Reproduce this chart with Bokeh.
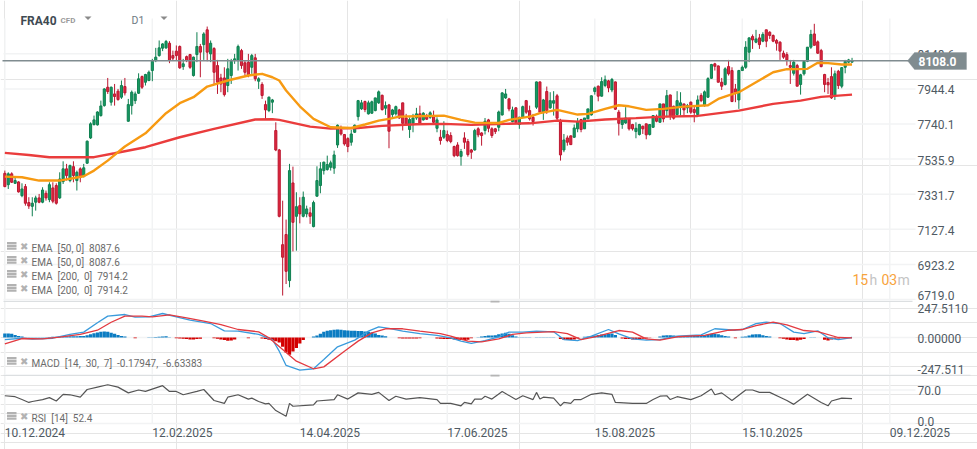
from bokeh.plotting import figure
from bokeh.layouts import column
from bokeh.models import (ColumnDataSource, Range1d, Label, Span, BoxAnnotation, PolyAnnotation)
from bokeh.embed import file_html
from bokeh.resources import INLINE

# ------------------------------------------------ data
candles = """
R 7469 7453 7376 7372|G 7459 7450 7387 7362|R 7459 7450 7401 7397|G 7430 7411 7395 7391|R 7407 7403 7345 7341
G 7395 7362 7323 7314|R 7391 7376 7279 7265|R 7314 7283 7263 7246|G 7314 7279 7261 7203|G 7323 7310 7285 7236
R 7333 7310 7285 7279|G 7372 7356 7285 7279|R 7353 7337 7310 7294|G 7401 7387 7300 7285|R 7401 7368 7291 7279
R 7395 7382 7279 7271|G 7459 7420 7310 7304|G 7523 7479 7405 7391|R 7508 7479 7440 7411|G 7504 7498 7411 7401
R 7523 7492 7440 7401|G 7469 7459 7411 7353|R 7488 7479 7430 7401|G 7508 7485 7434 7430|G 7644 7640 7512 7508
G 7750 7741 7659 7653|G 7789 7764 7737 7731|G 7814 7810 7735 7731|G 7876 7845 7789 7783|G 7948 7944 7847 7841
R 8008 7954 7929 7915|G 7958 7954 7867 7847|R 7973 7915 7900 7847|R 7944 7931 7882 7876|G 7993 7964 7896 7886
R 8008 7958 7921 7906|G 7886 7853 7756 7754|G 7935 7925 7847 7795|G 7929 7915 7876 7857|G 8035 8003 7919 7915
R 8022 8016 7954 7944|G 8032 8028 7983 7964|G 8051 8041 7993 7989|G 8119 8105 8051 7989|G 8183 8129 8109 8100
G 8226 8183 8138 8132|G 8210 8206 8181 8164|G 8229 8220 8183 8177|R 8222 8210 8109 8094|R 8167 8138 8123 8109
R 8197 8164 8138 8109|R 8197 8191 8067 8061|G 8119 8090 8074 8055|R 8138 8132 8109 8100|R 8148 8144 8070 8061
G 8132 8129 8022 8016|G 8274 8191 8144 8100|R 8206 8191 8158 8012|G 8274 8264 8202 8113|R 8307 8288 8158 8105
G 8226 8210 8148 8100|R 8187 8179 8041 7973|R 8113 8080 7983 7915|R 8032 8008 7973 7925|R 8070 8008 7911 7900
G 8119 8061 7964 7925|G 8119 8105 8022 7973|G 8148 8119 8109 8090|G 8202 8191 8109 8051|R 8177 8167 8080 8061
R 8109 8096 8041 8022|R 8148 8100 8022 8012|G 8148 8138 8070 8032|R 8148 8125 8003 7989|G 8012 8003 7989 7944
R 7983 7970 7906 7886|R 7876 7853 7822 7770|G 7900 7896 7818 7809|G 7886 7880 7867 7803|R 7750 7702 7589 7582
R 7595 7589 7203 7197|R 7294 7038 6965 6742|R 7184 7097 6883 6809|G 7508 7469 6829 6790|R 7492 7397 7168 6999
G 7343 7259 7203 7003|R 7314 7265 7217 7162|G 7347 7314 7203 7197|G 7265 7246 7217 7197|R 7256 7223 7203 7159
G 7294 7283 7143 7139|G 7494 7411 7320 7318|G 7518 7479 7382 7337|G 7521 7518 7469 7446|G 7556 7504 7475 7469
G 7527 7514 7488 7469|G 7585 7560 7483 7450|G 7737 7733 7618 7601|R 7731 7706 7682 7673|R 7682 7679 7624 7614
R 7663 7655 7609 7576|G 7706 7682 7634 7614|G 7737 7733 7692 7688|G 7880 7876 7783 7760|G 7880 7863 7828 7822
R 7876 7871 7824 7809|G 7876 7863 7799 7795|G 7876 7869 7803 7799|G 7892 7892 7818 7814|G 7935 7927 7863 7857
R 7911 7907 7824 7818|G 7871 7847 7832 7793|R 7857 7851 7698 7599|G 7828 7822 7795 7779|G 7847 7841 7799 7789
R 7828 7822 7775 7770|R 7863 7863 7744 7702|R 7799 7775 7737 7731|G 7779 7766 7708 7659|G 7799 7775 7744 7692
G 7834 7799 7775 7764|R 7847 7799 7744 7741|G 7809 7803 7764 7760|R 7799 7789 7768 7764|G 7814 7805 7779 7770
R 7818 7785 7750 7744|G 7779 7764 7715 7692|R 7706 7663 7644 7620|G 7756 7702 7663 7653|R 7702 7679 7644 7634
R 7692 7673 7638 7628|R 7614 7609 7556 7547|R 7634 7618 7556 7550|G 7595 7580 7552 7498|R 7692 7659 7634 7595
R 7653 7638 7562 7550|R 7595 7589 7576 7537|G 7712 7702 7589 7585|R 7721 7712 7677 7663|R 7692 7688 7673 7614
G 7775 7756 7702 7679|R 7770 7764 7715 7692|R 7721 7712 7673 7659|R 7717 7712 7696 7682|G 7818 7810 7721 7698
G 7925 7921 7793 7789|G 7944 7915 7892 7886|R 7892 7886 7828 7814|G 7841 7822 7754 7750|R 7838 7834 7750 7741
G 7783 7779 7737 7712|G 7847 7841 7779 7775|R 7880 7876 7809 7799|R 7847 7818 7770 7760|R 7799 7779 7754 7731
G 7987 7985 7838 7828|R 7987 7985 7809 7799|G 7886 7880 7809 7764|R 7958 7929 7818 7799|G 7925 7876 7834 7828
G 7931 7876 7861 7789|R 7915 7904 7774 7760|R 7770 7756 7560 7527|G 7682 7647 7589 7576|R 7673 7659 7634 7614
R 7673 7671 7620 7618|G 7737 7717 7663 7659|G 7775 7754 7712 7692|R 7770 7766 7708 7692|G 7775 7775 7712 7712
G 7828 7828 7770 7770|G 7906 7904 7793 7789|G 7958 7950 7929 7911|R 7964 7960 7902 7872|G 8012 7987 7902 7900
G 8022 7997 7964 7954|R 7997 7991 7950 7925|G 8008 7999 7938 7925|R 7987 7985 7826 7822|R 7822 7809 7744 7673
G 7770 7764 7737 7712|G 7838 7775 7746 7741|R 7775 7770 7712 7702|R 7741 7737 7712 7702|G 7750 7715 7696 7657
G 7741 7737 7679 7673|R 7731 7727 7712 7682|R 7741 7741 7677 7651|G 7737 7737 7679 7673|G 7789 7789 7721 7717
R 7795 7785 7756 7750|G 7857 7857 7750 7750|R 7857 7857 7770 7750|G 7938 7905 7818 7779|R 7911 7909 7783 7764
R 7847 7843 7774 7766|G 7931 7876 7795 7789|G 7925 7863 7847 7789|R 7857 7857 7822 7789|G 7857 7847 7834 7803
R 7871 7867 7809 7799|R 7847 7824 7807 7750|G 7906 7880 7795 7789|R 7919 7906 7876 7867|G 7935 7927 7847 7841
G 8012 8004 7896 7892|G 8090 8086 8006 8003|R 8096 8090 8076 8051|R 8080 8078 7983 7983|R 8008 7983 7960 7938
G 8070 8061 7970 7964|R 8113 8074 8032 8022|R 8070 8051 7871 7867|R 7973 7944 7925 7867|G 8055 8051 7880 7828
G 8080 8070 8051 8051|G 8222 8187 8070 8061|G 8245 8241 8158 8100|R 8261 8249 8229 8177|G 8288 8235 8216 8210
R 8264 8241 8202 8177|G 8274 8261 8222 8216|R 8288 8288 8222 8187|R 8280 8274 8255 8235|R 8261 8255 8222 8216
R 8235 8226 8210 8167|R 8222 8216 8164 8113|R 8167 8152 8129 8119|R 8158 8144 8113 8080|R 8113 8080 8070 7973
G 8113 8100 8035 8022|R 8090 8080 7960 7960|G 8032 8026 7970 7911|G 8105 8105 8032 8022|G 8187 8187 8105 8100
G 8288 8261 8187 8177|R 8323 8264 8198 8197|R 8226 8218 8152 8148|R 8177 8167 8074 8070|R 8032 8028 7970 7925
R 8008 7981 7968 7915|R 8070 8016 7892 7886|G 8051 8032 7906 7880|R 8055 8047 7964 7944|G 8070 8068 7960 7948
G 8113 8105 8070 8035|G 8119 8113 8100 8094|G 8125 8108 8100 8098
"""

ema50_idx = [0,5,10,16,23,26,30,35,41,43,47,51,55,59,65,71,75,78,80,82,86,90,95,101,105,109,112,115,120,128,133,137,144,147,153,156,161,162,167,170,175,179,182,187,192,198,205,208,211,214,219,224,228,234,237,240,244,247]
ema50_val = [7434,7430,7411,7411,7436,7469,7527,7609,7686,7725,7803,7861,7896,7958,7993,8022,8032,8012,7993,7935,7843,7770,7721,7717,7737,7760,7770,7783,7785,7789,7764,7748,7746,7764,7783,7803,7822,7818,7795,7799,7828,7849,7843,7822,7828,7841,7849,7886,7907,7925,7983,8041,8059,8061,8096,8094,8086,8086]
ema200_idx = [0,7,13,26,32,41,51,61,73,78,80,89,95,103,110,120,128,136,146,153,161,167,175,184,192,202,214,224,232,238,247]
ema200_val = [7572,7560,7547,7547,7570,7605,7663,7712,7766,7768,7764,7725,7713,7717,7729,7739,7741,7735,7741,7744,7760,7754,7766,7774,7783,7787,7818,7857,7876,7898,7911]

macd_idx = [0,5,8,14,19,23,27,30,35,38,42,46,50,54,60,64,68,74,78,80,82,86,90,93,97,102,106,109,112,116,121,126,130,133,136,140,144,147,151,155,160,163,167,171,176,179,183,187,191,196,203,207,213,215,219,222,226,230,233,237,240,243,247]
macd_val = [-14,-5,-11,-5,21,37,101,147,158,140,142,165,142,119,96,46,44,21,-14,-94,-192,-224,-215,-151,-64,-18,44,73,62,44,27,14,-2,-25,-41,-21,5,37,37,44,39,-14,-21,9,55,25,-9,-18,-14,9,18,60,50,55,96,105,96,37,27,46,-2,-14,0]
signal_idx = [0,5,11,16,22,27,31,35,40,43,48,53,58,63,68,74,77,81,85,90,93,99,103,107,111,116,121,127,130,135,139,144,148,152,160,164,168,172,179,183,187,191,196,204,211,215,219,224,228,233,237,243,247]
signal_val = [-44,-7,-9,2,21,50,105,147,147,142,156,135,112,89,55,39,-2,-82,-163,-215,-202,-94,-25,32,60,60,44,27,9,-25,-30,-9,21,32,41,27,-14,5,48,37,-9,-18,5,14,50,55,82,105,87,48,41,0,-2]
hist_val = [27,27,25,18,11,7, 2,2,2,2,2,2,2, 3,5,5,7, 7,8,9,9,9,11,11, 16,23,30,34,39,41,39, 32,25,18,11,7,
            0,0,-5,0,0,0, 2,2,3,5,7,9,2, 0, -5,-7,-9,-11,-14,-14,-11,-9, 0,0,0, -5,-9,-14,-18,-23,-21,-14,
            0,0,0,-5,0,0,0, -7,-11,-16,-21, -25,-34,-64,-103,-119,-96,-73,-41,-18, 0,0,
            7,14,25,39,46,50,53,55,53,50,48,46,46,44,44,41,39,34,27,18,14,9, 0,0,0,
            -5,-7,-7,-7,-7,-7,-5, 0,0,0,0, -7,-9,-11,-11, -11,-14,-16,-18,-18,-16,-5, 0,
            2,7,11,14,14,16,23,27,32,25,16,7,2,2,2,2, 0, 2,2,2,2,2,2, 0,
            -11,-16,-18,-18,-14,-5, 0, 5,7,9,14,18,21,23,25,27,18, 0,
            -7,-11,-11,-14,-14,-11,-9,-7,-2, 0,0,
            7,14,16,16,14,11,11,11,14,14,14,11,14,16,21,25,25,23,16,11,7, 0, -5, 0,
            5,7,14,21,23,23,16,11,7, 0,0, -5,-9,-14,-18,-18,-21,-16,-11, 0, 2,2, 0,0,
            -16,-21,-14,-9,-7,-2, 0,0,0]

rsi_idx = [0,3,5,7,8,11,13,15,17,19,22,24,27,30,33,36,39,41,46,48,50,52,56,58,61,64,65,68,71,72,74,76,77,79,82,83,84,90,91,96,97,100,103,107,109,112,114,117,121,126,127,130,133,134,136,137,139,140,142,145,149,151,154,155,156,157,160,162,163,165,166,168,171,174,177,178,183,187,189,191,193,194,196,200,203,206,207,209,212,216,218,220,223,226,228,230,234,238,240,241,244,247]
rsi_val = [58,56,50,44,46,50,54,47,61,60,55,71,76,81,76,64,70,67,79,67,67,60,67,71,48,42,55,60,51,53,46,41,42,27,15,42,36,39,47,50,60,51,64,61,65,48,57,51,54,50,42,42,37,44,41,51,51,57,51,67,50,58,50,65,51,55,53,37,44,42,50,50,61,64,61,44,42,42,50,57,58,50,56,50,58,72,60,64,48,70,70,65,65,55,48,40,61,44,37,47,53,52]

tick_idx = [0,43,86,129,172,215,258]
tick_dates = ["10.12.2024","12.02.2025","14.04.2025","17.06.2025","15.08.2025","15.10.2025","09.12.2025"]
price_ticks = [6719.0,6923.2,7127.4,7331.7,7535.9,7740.1,7944.4,8148.6]
last_price = 8108.0
NB = "\u00a0"
ema_legend = [f"EMA{NB} [50, 0]{NB} 8087.6", f"EMA{NB} [50, 0]{NB} 8087.6",
              f"EMA{NB} [200,{NB} 0]{NB} 7914.2", f"EMA{NB} [200,{NB} 0]{NB} 7914.2"]

# ------------------------------------------------ parsing
rows = [r.split() for line in candles.strip().splitlines() for r in line.split("|") if r.strip()]
idx = list(range(len(rows)))
kind = [r[0] for r in rows]
high = [float(r[1]) for r in rows]
top = [float(r[2]) for r in rows]
bot = [float(r[3]) for r in rows]
low = [float(r[4]) for r in rows]

# ------------------------------------------------ page geometry: panes are stacked, frame fills each pane
W = 977
STEP = 3.43
def hx(px): return (px - 4.33) / STEP
def py(y): return 6719 + (299 - y) * 5.818
def my(y): return (337 - y) * 247.511 / 36
def ry(y): return (423 - y) * 70 / 33.5

FONT = "Roboto"
TXT = "#4f5a63"
GRID = "#f2f3f4"
GRID_END = 915

x_range = Range1d(hx(0), hx(W))

def base(height, yr):
    return figure(width=W, height=height, x_range=x_range, y_range=yr, output_backend="svg",
                  toolbar_location=None, min_border=0, outline_line_color=None,
                  x_axis_location=None, y_axis_location=None)

def add_grid(p, y_ticks, y_top, y_bot):
    p.segment(x0=tick_idx, x1=tick_idx, y0=[y_top] * len(tick_idx), y1=[y_bot] * len(tick_idx),
              line_color=GRID, line_width=1.5)
    p.segment(x0=[hx(3)] * len(y_ticks), x1=[hx(GRID_END)] * len(y_ticks), y0=y_ticks, y1=y_ticks,
              line_color=GRID, line_width=1.5)

def txt(p, x, y, text, size="10px", color="#6b6b6b", weight="normal", font=FONT, level="annotation"):
    p.add_layout(Label(x=x, y=y, text=text, text_font=font, text_font_size=size, text_color=color,
                       text_font_style=weight, text_baseline="middle", text_align="left", level=level))

def icons(p, y_fn, y):
    for off in (-3.0, -0.3, 2.4):
        p.add_layout(BoxAnnotation(left=hx(6.5), right=hx(16), top=y_fn(y - 2 + off - 1.1), bottom=y_fn(y - 2 + off + 1.1),
                                   fill_color="#b2b2b2", fill_alpha=1, line_color=None))
    txt(p, hx(19.5), y_fn(y - 2.2), "\u2716", size="10px", color="#b2b2b2", font="DejaVu Sans")

def sep(p, y_fn, y, right):
    p.add_layout(BoxAnnotation(left=hx(3), right=hx(right), top=y_fn(y), bottom=y_fn(y + 1.5), fill_color="#dcdfe1",
                               fill_alpha=1, line_color=None))
    p.add_layout(BoxAnnotation(left=hx(490), right=hx(499), top=y_fn(y), bottom=y_fn(y + 2), fill_color="#b5b5b5",
                               fill_alpha=1, line_color=None))

# ------------------------------------------------ price pane (0..300 px)
price = base(300, Range1d(py(300), py(0)))
add_grid(price, price_ticks, py(18), py(299))

def subset(k):
    ii = [i for i in idx if kind[i] == k]
    return ColumnDataSource(dict(x=ii, high=[high[i] for i in ii], low=[low[i] for i in ii],
                                 top=[top[i] for i in ii], bot=[bot[i] for i in ii]))

for src, fill, edge in ((subset("G"), "#169a62", "#0f7f50"), (subset("R"), "#e0283f", "#bb1730")):
    price.segment(x0="x", x1="x", y0="low", y1="high", source=src, line_color=edge, line_width=1)
    price.vbar(x="x", width=0.62, top="top", bottom="bot", source=src, fill_color=fill, line_color=edge, line_width=1)

price.line(ema200_idx, ema200_val, line_color="#ea3c3c", line_width=2.4)
price.line(ema50_idx, ema50_val, line_color="#f79a12", line_width=2.4, line_join="round")
price.segment(x0=[hx(2)], x1=[hx(908)], y0=[last_price], y1=[last_price], line_color="#808c90", line_width=1.3)

for t in price_ticks:
    yy = 295 if t == 6719.0 else None
    txt(price, hx(917), py(yy) if yy else t - 5.8, f"{t:.1f}", size="12px", color=TXT)

price.add_layout(PolyAnnotation(xs=[hx(907), hx(914), hx(966), hx(966), hx(914)],
                                ys=[last_price, py(52), py(52), py(69), py(69)],
                                fill_color="#808c90", fill_alpha=1, line_color="#808c90", level="overlay"))
txt(price, hx(918), py(61), f"{last_price:.1f}", size="12px", color="#ffffff", weight="bold", level="overlay")

txt(price, hx(20), py(20), "FRA40", size="12px", color="#3f4a52", weight="bold")
txt(price, hx(60), py(19.5), "CFD", size="8px", color="#9a9a9a", weight="bold")
txt(price, hx(131), py(20), "D1", size="10.5px", color="#6f7a82")
for a, b in ((84, 91), (160, 167)):
    price.add_layout(PolyAnnotation(xs=[hx(a), hx(b), hx((a + b) / 2)], ys=[py(16), py(16), py(19.5)],
                                    fill_color="#8a8a8a", fill_alpha=1, line_color=None))

for k, s in enumerate(ema_legend):
    yy = 247.7 + k * 14
    icons(price, py, yy)
    txt(price, hx(31), py(yy), s)

for px, s, col in ((852, "15", "#f8a33c"), (869, "h", "#c4c4c4"), (881, "03", "#f8a33c"), (897, "m", "#c4c4c4")):
    txt(price, hx(px), py(279), s, size="14px", color=col)

# ------------------------------------------------ MACD pane (300..374 px)
macd = base(74, Range1d(my(374), my(300)))
add_grid(macd, [0], my(300), my(374))
hist_idx = list(range(len(hist_val)))
pos = ColumnDataSource(dict(x=[i for i in hist_idx if hist_val[i] > 0], v=[v for v in hist_val if v > 0]))
neg = ColumnDataSource(dict(x=[i for i in hist_idx if hist_val[i] < 0], v=[v for v in hist_val if v < 0]))
macd.vbar(x="x", width=0.95, top="v", bottom=0, source=pos, fill_color="#0b7cc2", line_color=None)
macd.vbar(x="x", width=0.95, top="v", bottom=0, source=neg, fill_color="#d30000", line_color=None)
macd.line(macd_idx, macd_val, line_color="#3a9bdc", line_width=1.3)
macd.line(signal_idx, signal_val, line_color="#e33a40", line_width=1.3)
for yy, s in ((308, "247.5110"), (338, "0.00000"), (369, "-247.511")):
    txt(macd, hx(917), my(yy), s, size="12px", color=TXT)
icons(macd, my, 362.7)
txt(macd, hx(31), my(362.7), f"MACD{NB} [14,{NB} 30,{NB} 7]{NB} -0.17947,{NB} -6.63383")
sep(macd, my, 300, 912)

# ------------------------------------------------ RSI pane (374..449 px)
rsi = base(75, Range1d(ry(449), ry(374)))
add_grid(rsi, [0, 70], ry(374), ry(423))
rsi.line(rsi_idx, rsi_val, line_color="#555555", line_width=1.2)
for yy, s in ((390, "70.0"), (421, "0.0")):
    txt(rsi, hx(917), ry(yy), s, size="12px", color=TXT)
icons(rsi, ry, 417.7)
txt(rsi, hx(31), ry(417.7), f"RSI{NB} [14]{NB} 52.4")
sep(rsi, ry, 374, 970)
for t, s in zip(tick_idx, tick_dates):
    txt(rsi, t, ry(432), s, size="12px", color=TXT)

page = column(price, macd, rsi, spacing=0)
open("out.html", "w").write(file_html(page, INLINE))
